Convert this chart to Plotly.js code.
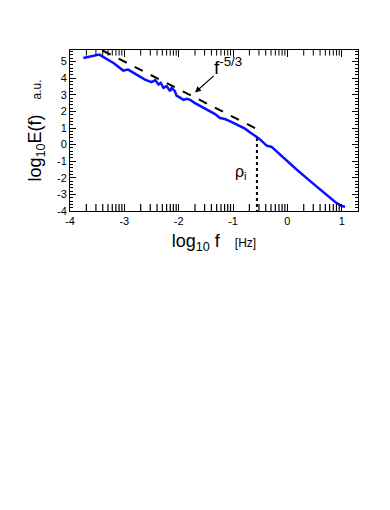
<!DOCTYPE html>
<html>
<head>
<meta charset="utf-8">
<script src="https://cdn.plot.ly/plotly-3.0.1.min.js"></script>
<style>html,body{margin:0;padding:0;background:#fff;}#chart{width:390px;height:510px;}</style>
</head>
<body>
<div id="chart"></div>
<script>
// Spectrum (log10 f, log10 E)
var logF = [-3.755,-3.46,-3.20,-3.02,-2.93,-2.77,-2.62,-2.50,-2.43,-2.37,-2.33,-2.28,-2.22,-2.16,-2.13,-2.07,-2.04,-1.99,-1.91,-1.85,-1.79,-1.70,-1.62,-1.54,-1.42,-1.33,-1.24,-1.15,-1.05,-0.95,-0.87,-0.78,-0.69,-0.62,-0.53,-0.50,-0.38,-0.29,-0.07,0.17,0.42,0.67,0.88,1.0,1.06];
var logE = [5.22,5.42,4.92,4.46,4.52,4.22,3.92,3.76,3.88,3.62,3.72,3.42,3.52,3.22,3.42,3.22,2.95,2.86,2.70,2.76,2.70,2.50,2.36,2.20,2.00,1.84,1.60,1.54,1.40,1.22,1.10,0.96,0.74,0.60,0.38,0.30,-0.06,-0.14,-0.80,-1.50,-2.20,-2.90,-3.46,-3.70,-3.74];
// Kolmogorov f^-5/3 reference line
var refX = [-3.40,-0.50];
var refY = [5.67,0.84];
// Ion gyroradius marker
var rhoX = [-0.56,-0.56];
var rhoY = [0.40,-4.0];
var xTicks = [-4,-3,-2,-1,0,1];
var yTicks = [-4,-3,-2,-1,0,1,2,3,4,5];
var xRange = [-4, 1.3];
var yRange = [-4, 5.7];

// log-style minor ticks inside each decade
var minorX = [];
xTicks.forEach(function (d) {
  for (var k = 2; k <= 9; k++) { var v = d + Math.log10(k); if (v < xRange[1]) minorX.push(v); }
});
var minorXb = minorX.map(function () { return yRange[0]; });
var minorXt = minorX.map(function () { return yRange[1]; });

var font = 'Liberation Sans, Arial, sans-serif';
var tickMarker = {symbol: 'line-ns-open', size: 8, color: '#000', line: {color: '#000', width: 1}};
var tickMarkerB = {symbol: 'line-ns-open', size: 10, color: '#000', line: {color: '#000', width: 1.2}};
var traces = [
  {x: refX, y: refY, mode: 'lines', line: {color: '#000', width: 2, dash: 'dash'}, hoverinfo: 'skip'},
  {x: rhoX, y: rhoY, mode: 'lines', line: {color: '#000', width: 2, dash: 'dot'}, hoverinfo: 'skip'},
  {x: logF, y: logE, mode: 'lines', line: {color: '#0a10ff', width: 2.5}, hoverinfo: 'skip'},
  {x: minorX, y: minorXb, mode: 'markers', marker: tickMarkerB, cliponaxis: true, hoverinfo: 'skip'},
  {x: minorX, y: minorXt, mode: 'markers', marker: tickMarker, cliponaxis: true, hoverinfo: 'skip'}
];
var layout = {
  width: 390, height: 510,
  margin: {l: 70, r: 32, t: 50, b: 299},
  showlegend: false,
  paper_bgcolor: '#fff', plot_bgcolor: '#fff',
  font: {family: font, color: '#000', size: 11},
  xaxis: {range: xRange, tickmode: 'array', tickvals: xTicks, ticktext: xTicks.map(String), ticks: 'inside', ticklen: 7, tickwidth: 1, tickcolor: '#000',
          showline: true, linecolor: '#000', linewidth: 1, mirror: 'ticks', showgrid: false, zeroline: false,
          tickfont: {size: 11, family: font},
          title: {text: 'log<sub>10</sub> f   <span style="font-size:12px">[Hz]</span>', font: {size: 18, family: font}, standoff: 8}},
  yaxis: {range: yRange, tickvals: yTicks, ticktext: yTicks.map(String), ticks: 'inside', ticklen: 6, tickcolor: '#000',
          minor: {dtick: 0.2, tick0: 0, ticks: 'inside', ticklen: 3, tickcolor: '#000', showgrid: false},
          showline: true, linecolor: '#000', linewidth: 1, mirror: 'ticks', showgrid: false, zeroline: false,
          tickfont: {size: 11, family: font},
          title: {text: 'log<sub>10</sub>E(f)   <span style="font-size:12px">a.u.</span>', font: {size: 18, family: font}, standoff: 10}},
  annotations: [
    {x: -1.09, y: 4.74, xref: 'x', yref: 'y', text: 'f<sup>-5/3</sup>', showarrow: false, font: {size: 19, family: font}},
    {x: -1.70, y: 3.14, ax: -1.30, ay: 4.30, xref: 'x', yref: 'y', axref: 'x', ayref: 'y', text: ' ', showarrow: true, arrowhead: 2, arrowsize: 1, arrowwidth: 1.2, arrowcolor: '#000'},
    {x: -0.86, y: -1.7, xref: 'x', yref: 'y', text: 'ρ<sub>i</sub>', showarrow: false, font: {size: 16, family: font}}
  ]
};
Plotly.newPlot('chart', traces, layout, {displayModeBar: false, staticPlot: true});
</script>
</body>
</html>
